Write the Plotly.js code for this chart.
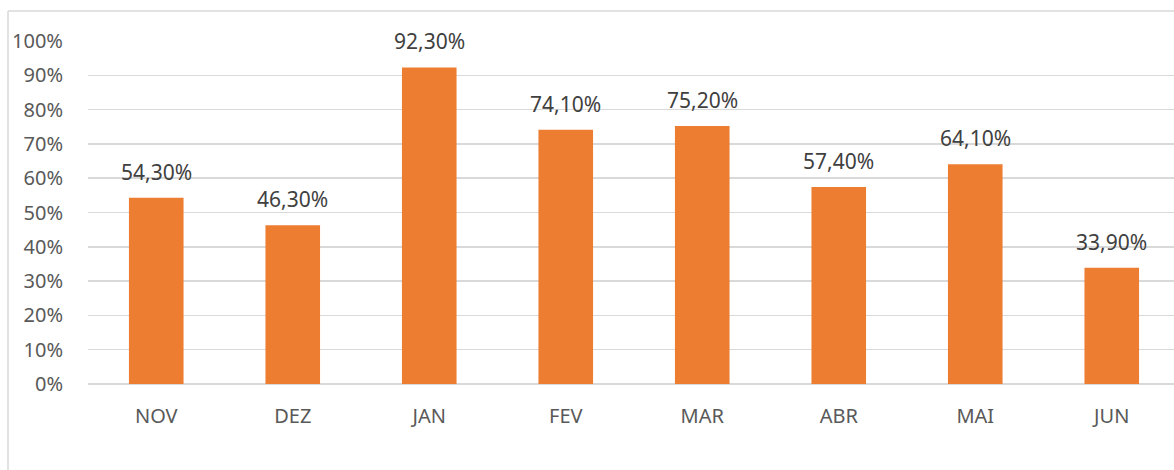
<!DOCTYPE html>
<html>
<head>
<meta charset="utf-8">
<script src="https://cdn.plot.ly/plotly-3.0.1.min.js"></script>
<style>html,body{margin:0;padding:0;background:#fff;}#chart{width:1174px;height:470px;}</style>
</head>
<body>
<div id="chart"></div>
<script>
const months = ["NOV", "DEZ", "JAN", "FEV", "MAR", "ABR", "MAI", "JUN"];
const values = [0.543, 0.463, 0.923, 0.741, 0.752, 0.574, 0.641, 0.339];
const yTickVals = [0, 0.1, 0.2, 0.3, 0.4, 0.5, 0.6, 0.7, 0.8, 0.9, 1.0];

const W = 1174, H = 470;
const mL = 88, mR = 0, mT = 41, mB = 86;
const plotW = W - mL - mR, plotH = H - mT - mB;
const px = x => (x - mL) / plotW;
const py = y => (H - mB - y) / plotH;

const fmtPct = v => (v * 100).toFixed(2).replace(".", ",") + "%";

const trace = {
  type: "bar",
  x: months,
  y: values,
  marker: {color: "#ED7D31"},
  hoverinfo: "skip"
};

const annotations = months.map((m, i) => ({
  x: m, y: values[i], xref: "x", yref: "y",
  text: fmtPct(values[i]),
  showarrow: false,
  xanchor: "center", yanchor: "middle",
  yshift: 26,
  font: {family: "Noto Sans, sans-serif", size: 21, color: "#404040"}
}));

const layout = {
  width: W, height: H,
  margin: {l: mL, r: mR, t: mT, b: mB, pad: 0},
  paper_bgcolor: "#fff",
  plot_bgcolor: "#fff",
  separators: ",.",
  showlegend: false,
  bargap: 0.6,
  font: {family: "Noto Sans, sans-serif", color: "#595959"},
  xaxis: {
    type: "category",
    range: [-0.5, 7.456],
    showgrid: false,
    zeroline: false,
    showline: false,
    ticks: "outside",
    ticklen: 14,
    tickcolor: "rgba(0,0,0,0)",
    tickfont: {size: 20, color: "#595959"},
    fixedrange: true
  },
  yaxis: {
    range: [0, 1],
    tickvals: yTickVals,
    tickformat: ".0%",
    showgrid: true,
    gridcolor: "#D9D9D9",
    gridwidth: 1.5,
    zeroline: true,
    zerolinecolor: "#D9D9D9",
    zerolinewidth: 1.5,
    showline: false,
    ticks: "outside",
    ticklen: 20,
    tickcolor: "rgba(0,0,0,0)",
    tickfont: {size: 20, color: "#595959"},
    fixedrange: true
  },
  annotations: annotations,
  shapes: [
    {type: "line", xref: "paper", yref: "paper", x0: px(8), x1: px(8), y0: py(11), y1: py(470), line: {color: "#D9D9D9", width: 1.5}, layer: "below"},
    {type: "line", xref: "paper", yref: "paper", x0: px(8), x1: px(1174), y0: py(11), y1: py(11), line: {color: "#D9D9D9", width: 1.5}, layer: "below"}
  ]
};

Plotly.newPlot("chart", [trace], layout, {displayModeBar: false, staticPlot: true});
</script>
</body>
</html>
